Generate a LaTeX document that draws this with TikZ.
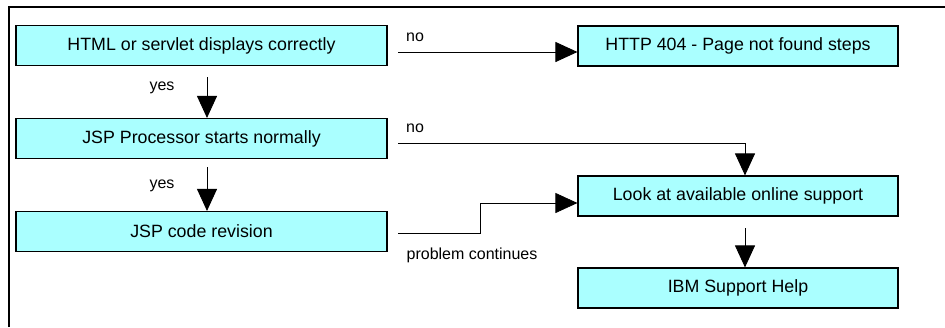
\documentclass[tikz,border=0pt]{standalone}
\usepackage{fontspec}
\setmainfont{Liberation Sans}
\usetikzlibrary{arrows.meta}
\definecolor{boxfill}{RGB}{170,255,255}
\tikzset{
  stepbox/.style={draw=black, line width=1.1pt, fill=boxfill, inner sep=0pt,
    minimum height=40pt, font=\fontsize{17.8}{20}\selectfont},
  leftbox/.style={stepbox, minimum width=371pt},
  rightbox/.style={stepbox, minimum width=320pt},
  flow/.style={draw=black, line width=0.9pt, -{Triangle[width=20pt,length=22pt]}},
  lbl/.style={font=\fontsize{16}{18}\selectfont, inner sep=0pt}
}
\begin{document}
\begin{tikzpicture}[x=1pt,y=-1pt]
  \useasboundingbox (0,0) rectangle (945,327);
  % frame lines
  \draw[line width=1.1pt] (9,327) -- (9,7) -- (945,7);

  % step boxes
  \node[leftbox]  (html)  at (201.5,45.5)  {HTML or servlet displays correctly};
  \node[leftbox]  (jsp)   at (201.5,138.5) {JSP Processor starts normally};
  \node[leftbox]  (code)  at (201.5,231.5) {JSP code revision};
  \node[rightbox] (http)  at (738,46)      {HTTP 404 - Page not found steps};
  \node[rightbox] (look)  at (738,196)     {Look at available online support};
  \node[rightbox] (ibm)   at (738,288)     {IBM Support Help};

  % helper points for free connector ends
  \coordinate (col)  at (745,0);
  \coordinate (ys1)  at (207,77);
  \coordinate (ys2)  at (207,167);
  \coordinate (no1)  at (398,52);
  \coordinate (no2)  at (398,143);
  \coordinate (pc0)  at (398,233);
  \coordinate (pc1)  at (480,233);
  \coordinate (pc2)  at (480,203);
  \coordinate (ls)   at (745,228);

  % connectors
  \draw[flow] (ys1) -- (ys1 |- jsp.north);
  \draw[flow] (ys2) -- (ys2 |- code.north);
  \draw[flow] (no1) -- (no1 -| http.west);
  \draw[flow] (no2) -| (col |- look.north);
  \draw[flow, line width=0.7pt] (pc0) -- (pc1) -- (pc2) -- (pc2 -| look.west);
  \draw[flow] (ls) -- (ls |- ibm.north);

  % connector labels
  \node[lbl] (yes1) at (162,88)  {yes};
  \node[lbl] (yes2) at (162,186) {yes};
  \node[lbl] (nol1) at (415,37)  {no};
  \node[lbl] (nol2) at (415,128) {no};
  \node[lbl] (pcl)  at (472,255) {problem continues};
\end{tikzpicture}
\end{document}
